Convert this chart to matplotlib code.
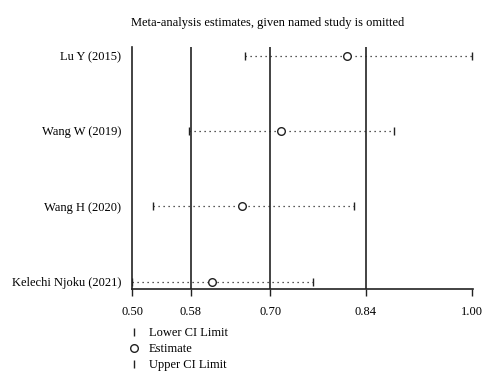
import matplotlib
matplotlib.use("Agg")
import matplotlib.pyplot as plt
from matplotlib.lines import Line2D

studies = ["Lu Y (2015)", "Wang W (2019)", "Wang H (2020)", "Kelechi Njoku (2021)"]
estimate = [0.812, 0.715, 0.659, 0.615]
lower = [0.663, 0.580, 0.528, 0.497]
upper = [0.996, 0.881, 0.823, 0.762]

overall_lower = 0.583
overall_est = 0.700
overall_upper = 0.840
xtick_values = [0.497, 0.583, 0.700, 0.840, 0.996]
xtick_labels = ["0.50", "0.58", "0.70", "0.84", "1.00"]
title = "Meta-analysis estimates, given named study is omitted"
legend_labels = ["Lower CI Limit", "Estimate", "Upper CI Limit"]

plt.rcParams['font.family'] = ['Liberation Serif', 'DejaVu Serif']
fig = plt.figure(figsize=(5.0, 3.88), dpi=100)
ax = fig.add_axes([0.264, 0.255, 0.681, 0.624])

n = len(studies)
ys = list(range(n, 0, -1))
col = '#222222'

for y, lo, est, up in zip(ys, lower, estimate, upper):
    ax.plot([lo, up], [y, y], ls=(0, (1, 3)), color=col, lw=0.9, zorder=2)
    ax.plot([lo], [y], marker='|', color=col, ms=6, mew=1.0, ls='none', zorder=3)
    ax.plot([up], [y], marker='|', color=col, ms=6, mew=1.0, ls='none', zorder=3)
    ax.plot([est], [y], marker='o', mfc='white', mec=col, ms=5.5, mew=1.0, ls='none', zorder=4)

for v in [overall_lower, overall_est, overall_upper]:
    ax.axvline(v, color=col, lw=1.2, zorder=1)

ax.set_xlim(xtick_values[0], xtick_values[-1] + 0.0005)
ax.set_ylim(1 - 0.097, n + 0.115)
ax.set_xticks(xtick_values)
ax.set_xticklabels(xtick_labels, fontsize=9)
ax.set_yticks(ys)
ax.set_yticklabels(studies, fontsize=9)
ax.tick_params(axis='y', length=0, pad=8)
ax.tick_params(axis='x', length=5, width=1.0, color=col, pad=7)
for s in ['top', 'right']:
    ax.spines[s].set_visible(False)
for s in ['left', 'bottom']:
    ax.spines[s].set_color(col)
    ax.spines[s].set_linewidth(1.2)

fig.text(0.535, 0.94, title, ha='center', va='center', fontsize=9)

handles = [
    Line2D([], [], marker='|', color=col, ls='none', ms=6, mew=1.0),
    Line2D([], [], marker='o', mfc='white', mec=col, ls='none', ms=5.5, mew=1.0),
    Line2D([], [], marker='|', color=col, ls='none', ms=6, mew=1.0),
]
fig.legend(handles, legend_labels, loc='upper left', bbox_to_anchor=(0.255, 0.156),
           frameon=False, fontsize=9, handlelength=1.0, handletextpad=0.7,
           labelspacing=0.32, borderaxespad=0, borderpad=0)

fig.savefig("out.png", dpi=100)
